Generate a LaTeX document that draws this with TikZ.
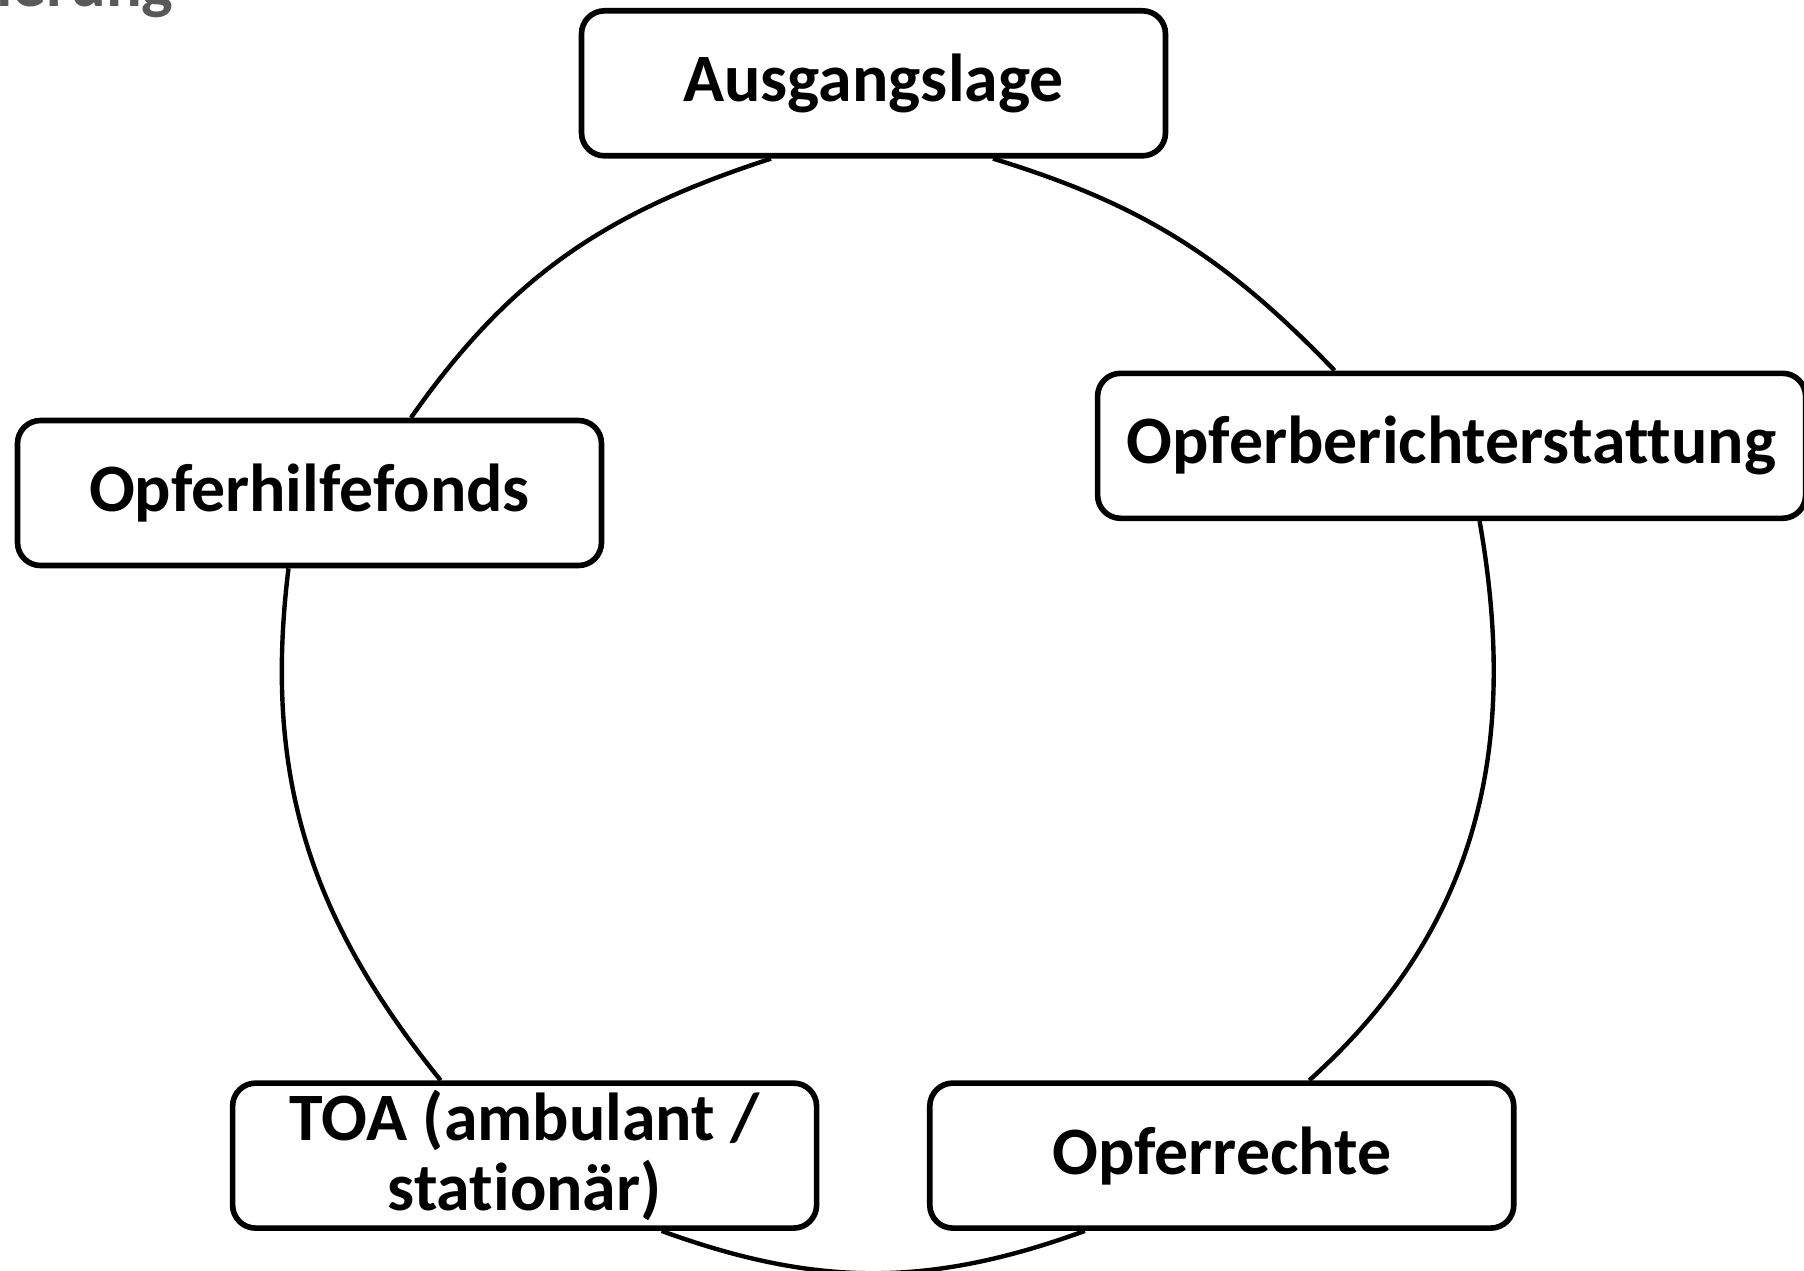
\documentclass[tikz,border=0pt]{standalone}
\usepackage{fontspec}
\setmainfont{Carlito}[Ligatures=NoCommon]
\usetikzlibrary{positioning}
\definecolor{titlegrey}{HTML}{595959}

\begin{document}
\begin{tikzpicture}[
    x=0.1mm, y=0.1mm,
    every node/.style={font=\bfseries\fontsize{19.3}{20}\selectfont},
    box/.style={draw, line width=1.6pt, rounded corners=0.23cm, fill=white, minimum width=5.84cm, minimum height=1.45cm, align=center, inner sep=0pt},
    link/.style={line width=1.25pt},
    title/.style={font=\bfseries\fontsize{19}{19}\selectfont, text=titlegrey}
]
\useasboundingbox (0,0) rectangle (1804,-1271);

% 标题（上方被裁掉）
\node[title, anchor=base east] (titel) at (186,-6) {ierung};

% 五个节点
\node[box] (aus) at (873.5,-83.3) {Ausgangslage};
\node[box, minimum width=7.08cm] (bericht) at (1451.6,-445.8) {Opferberichterstattung};
\node[box] (rechte) at (1221.8,-1155.6) {Opferrechte};
\node[box] (toa) at (524.6,-1155.6) {TOA (ambulant /\\stationär)};
\node[box] (fonds) at (309.5,-493) {Opferhilfefonds};

% 连接弧线
\draw[link] ([xshift=-1.025cm]aus.south) to[out=198, in=55] ([xshift=1.015cm]fonds.north);
\draw[link] ([xshift=1.195cm]aus.south) to[out=-17, in=134] ([xshift=-1.17cm]bericht.north);
\draw[link] ([xshift=0.28cm]bericht.south) to[out=-80, in=42] ([xshift=0.875cm]rechte.north);
\draw[link] ([xshift=-1.37cm]rechte.south) to[out=200, in=-20] ([xshift=1.37cm]toa.south);
\draw[link] ([xshift=-0.84cm]toa.north) to[out=129, in=-97] ([xshift=-0.21cm]fonds.south);

\end{tikzpicture}
\end{document}
